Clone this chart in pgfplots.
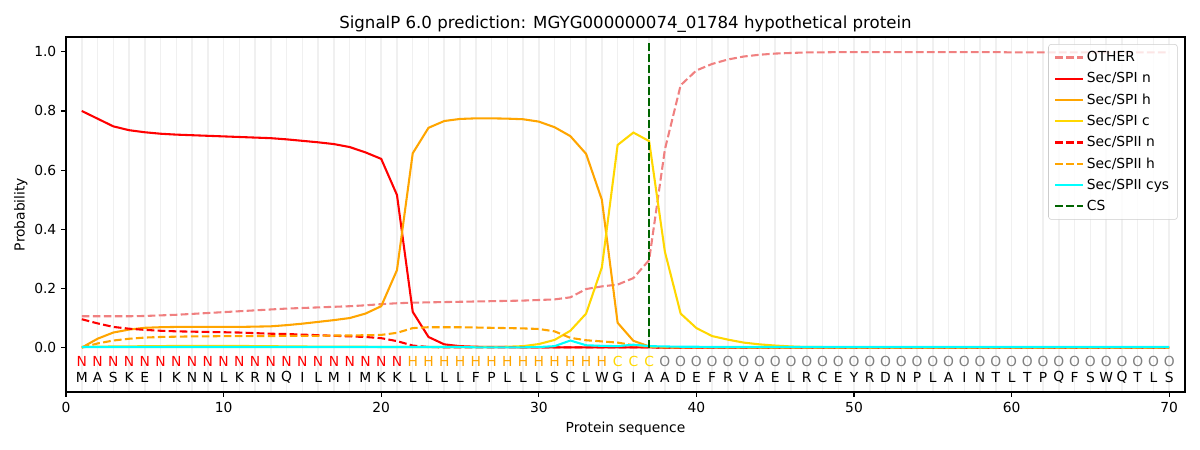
\documentclass[border=0pt]{standalone}
\usepackage{fontspec}
\setmainfont{DejaVu Sans}
\usepackage{pgfplots}
\pgfplotsset{compat=1.18}
\usepackage{pgfplotstable}
\definecolor{lcoral}{HTML}{F08080}
\definecolor{orng}{HTML}{FFA500}
\definecolor{gold}{HTML}{FFD700}
\definecolor{cyn}{HTML}{00FFFF}
\definecolor{dgreen}{HTML}{006400}
\definecolor{gridc}{HTML}{F0F0F0}

\pgfplotstableread{
x other spin spih spic spiin spiih cys
1 0.106 0.800 0.000 0.002 0.096 0.000 0.002
2 0.106 0.774 0.030 0.003 0.082 0.014 0.002
3 0.106 0.748 0.051 0.004 0.070 0.024 0.002
4 0.106 0.735 0.061 0.004 0.064 0.030 0.002
5 0.107 0.728 0.067 0.005 0.060 0.034 0.002
6 0.109 0.723 0.069 0.005 0.057 0.036 0.002
7 0.111 0.720 0.070 0.006 0.055 0.037 0.002
8 0.114 0.718 0.070 0.006 0.054 0.038 0.002
9 0.117 0.716 0.070 0.006 0.053 0.038 0.002
10 0.120 0.714 0.070 0.006 0.052 0.039 0.002
11 0.123 0.712 0.070 0.006 0.051 0.039 0.002
12 0.126 0.710 0.071 0.005 0.049 0.039 0.002
13 0.129 0.708 0.072 0.005 0.047 0.039 0.002
14 0.132 0.704 0.076 0.004 0.046 0.040 0.002
15 0.134 0.699 0.081 0.004 0.044 0.040 0.002
16 0.136 0.694 0.087 0.003 0.042 0.040 0.002
17 0.138 0.688 0.093 0.003 0.040 0.041 0.002
18 0.140 0.678 0.100 0.003 0.038 0.041 0.002
19 0.143 0.660 0.115 0.003 0.036 0.042 0.002
20 0.147 0.638 0.140 0.002 0.032 0.043 0.002
21 0.150 0.516 0.262 0.002 0.022 0.050 0.002
22 0.152 0.121 0.657 0.002 0.007 0.066 0.002
23 0.153 0.036 0.743 0.002 0.002 0.069 0.002
24 0.154 0.011 0.766 0.002 0.001 0.069 0.002
25 0.155 0.005 0.773 0.002 0.001 0.069 0.002
26 0.156 0.003 0.775 0.002 0.001 0.068 0.001
27 0.157 0.002 0.775 0.002 0.001 0.067 0.001
28 0.158 0.002 0.774 0.003 0.001 0.066 0.001
29 0.159 0.001 0.772 0.005 0.001 0.065 0.001
30 0.161 0.001 0.764 0.012 0.001 0.063 0.002
31 0.163 0.001 0.745 0.026 0.001 0.055 0.005
32 0.170 0.001 0.715 0.057 0.001 0.033 0.024
33 0.198 0.001 0.655 0.115 0.001 0.025 0.008
34 0.207 0.001 0.500 0.271 0.001 0.021 0.006
35 0.213 0.001 0.084 0.685 0.001 0.017 0.005
36 0.235 0.001 0.023 0.727 0.001 0.008 0.010
37 0.296 0.001 0.004 0.698 0.001 0.003 0.005
38 0.670 0.000 0.001 0.324 0.000 0.001 0.004
39 0.887 0.000 0.001 0.115 0.000 0.001 0.003
40 0.937 0.000 0.001 0.066 0.000 0.001 0.003
41 0.959 0.000 0.001 0.039 0.000 0.001 0.002
42 0.974 0.000 0.000 0.027 0.000 0.001 0.002
43 0.984 0.000 0.000 0.017 0.000 0.001 0.002
44 0.990 0.000 0.000 0.011 0.000 0.000 0.002
45 0.994 0.000 0.000 0.007 0.000 0.000 0.002
46 0.996 0.000 0.000 0.004 0.000 0.000 0.002
47 0.998 0.000 0.000 0.002 0.000 0.000 0.002
48 0.998 0.000 0.000 0.002 0.000 0.000 0.002
49 0.999 0.000 0.000 0.001 0.000 0.000 0.002
50 0.999 0.000 0.000 0.001 0.000 0.000 0.002
51 0.999 0.000 0.000 0.001 0.000 0.000 0.002
52 0.999 0.000 0.000 0.001 0.000 0.000 0.002
53 0.999 0.000 0.000 0.001 0.000 0.000 0.002
54 0.999 0.000 0.000 0.001 0.000 0.000 0.002
55 0.999 0.000 0.000 0.001 0.000 0.000 0.002
56 0.999 0.000 0.000 0.001 0.000 0.000 0.002
57 0.999 0.000 0.000 0.001 0.000 0.000 0.002
58 0.999 0.000 0.000 0.001 0.000 0.000 0.002
59 0.999 0.000 0.000 0.001 0.000 0.000 0.002
60 0.998 0.000 0.000 0.001 0.000 0.000 0.002
61 0.998 0.000 0.000 0.001 0.000 0.000 0.002
62 0.998 0.000 0.000 0.001 0.000 0.000 0.002
63 0.998 0.000 0.000 0.001 0.000 0.000 0.002
64 0.998 0.000 0.000 0.001 0.000 0.000 0.002
65 0.998 0.000 0.000 0.001 0.000 0.000 0.002
66 0.998 0.000 0.000 0.001 0.000 0.000 0.002
67 0.998 0.000 0.000 0.001 0.000 0.000 0.002
68 0.998 0.000 0.000 0.001 0.000 0.000 0.002
69 0.998 0.000 0.000 0.001 0.000 0.000 0.002
70 0.998 0.000 0.000 0.001 0.000 0.000 0.002
}\probs

\pgfplotstableread{
x y l
1 -0.046 N
2 -0.046 N
3 -0.046 N
4 -0.046 N
5 -0.046 N
6 -0.046 N
7 -0.046 N
8 -0.046 N
9 -0.046 N
10 -0.046 N
11 -0.046 N
12 -0.046 N
13 -0.046 N
14 -0.046 N
15 -0.046 N
16 -0.046 N
17 -0.046 N
18 -0.046 N
19 -0.046 N
20 -0.046 N
21 -0.046 N
}\labN
\pgfplotstableread{
x y l
22 -0.046 H
23 -0.046 H
24 -0.046 H
25 -0.046 H
26 -0.046 H
27 -0.046 H
28 -0.046 H
29 -0.046 H
30 -0.046 H
31 -0.046 H
32 -0.046 H
33 -0.046 H
34 -0.046 H
}\labH
\pgfplotstableread{
x y l
35 -0.046 C
36 -0.046 C
37 -0.046 C
}\labC
\pgfplotstableread{
x y l
38 -0.046 O
39 -0.046 O
40 -0.046 O
41 -0.046 O
42 -0.046 O
43 -0.046 O
44 -0.046 O
45 -0.046 O
46 -0.046 O
47 -0.046 O
48 -0.046 O
49 -0.046 O
50 -0.046 O
51 -0.046 O
52 -0.046 O
53 -0.046 O
54 -0.046 O
55 -0.046 O
56 -0.046 O
57 -0.046 O
58 -0.046 O
59 -0.046 O
60 -0.046 O
61 -0.046 O
62 -0.046 O
63 -0.046 O
64 -0.046 O
65 -0.046 O
66 -0.046 O
67 -0.046 O
68 -0.046 O
69 -0.046 O
70 -0.046 O
}\labO
\pgfplotstableread{
x y l
1 -0.100 M
2 -0.100 A
3 -0.100 S
4 -0.100 K
5 -0.100 E
6 -0.100 I
7 -0.100 K
8 -0.100 N
9 -0.100 N
10 -0.100 L
11 -0.100 K
12 -0.100 R
13 -0.100 N
14 -0.100 Q
15 -0.100 I
16 -0.100 L
17 -0.100 M
18 -0.100 I
19 -0.100 M
20 -0.100 K
21 -0.100 K
22 -0.100 L
23 -0.100 L
24 -0.100 L
25 -0.100 L
26 -0.100 F
27 -0.100 P
28 -0.100 L
29 -0.100 L
30 -0.100 L
31 -0.100 S
32 -0.100 C
33 -0.100 L
34 -0.100 W
35 -0.100 G
36 -0.100 I
37 -0.100 A
38 -0.100 A
39 -0.100 D
40 -0.100 E
41 -0.100 F
42 -0.100 R
43 -0.100 V
44 -0.100 A
45 -0.100 E
46 -0.100 L
47 -0.100 R
48 -0.100 C
49 -0.100 E
50 -0.100 Y
51 -0.100 R
52 -0.100 D
53 -0.100 N
54 -0.100 P
55 -0.100 L
56 -0.100 A
57 -0.100 I
58 -0.100 N
59 -0.100 T
60 -0.100 L
61 -0.100 T
62 -0.100 P
63 -0.100 Q
64 -0.100 F
65 -0.100 S
66 -0.100 W
67 -0.100 Q
68 -0.100 T
69 -0.100 L
70 -0.100 S
}\labAA

\begin{document}
\begin{tikzpicture}
\begin{axis}[
  at={(0,0)}, anchor=south west,
  scale only axis,
  width=11.19in, height=3.55in,
  xmin=0, xmax=71, ymin=-0.15, ymax=1.05,
  xtick={0,10,20,30,40,50,60,70},
  ytick={0,0.2,0.4,0.6,0.8,1.0},
  yticklabel style={/pgf/number format/.cd, fixed, fixed zerofill, precision=1},
  /pgf/number format/assume math mode=true,
  tick label style={font=\fontsize{10}{12}\selectfont},
  tick align=outside,
  major tick length=3.5pt,
  tick style={black, line width=0.8pt},
  xtick pos=bottom, ytick pos=left,
  minor xtick={1,2,...,70},
  minor tick length=0pt,
  xminorgrids,
  minor grid style={gridc, line width=1.1pt},
  axis line style={black, line width=0.8pt},
  title={SignalP 6.0 prediction: MGYG000000074\_01784 hypothetical protein},
  title style={font=\fontsize{12}{14}\selectfont, yshift=-6pt},
  xlabel={Protein sequence},
  ylabel={Probability},
  label style={font=\fontsize{10}{12}\selectfont},
  xlabel style={yshift=0pt},
  ylabel style={yshift=-2pt},
  legend cell align=left,
  legend style={at={(0.9935,0.98)}, anchor=north east,
    draw=black!20, fill=white, fill opacity=0.8, text opacity=1,
    rounded corners=2pt, font=\fontsize{10}{12}\selectfont,
    inner xsep=4pt, inner ysep=3pt, row sep=2.4pt},
  legend image code/.code={\draw[#1] (0in,0in) -- (0.28in,0in);},
  clip=false,
]
\addplot[lcoral, line width=1.5pt, dash pattern=on 5.55pt off 2.4pt] table[x=x,y=other] {\probs};
\addlegendentry{OTHER}
\addplot[red, line width=1.5pt] table[x=x,y=spin] {\probs};
\addlegendentry{Sec/SPI n}
\addplot[orng, line width=1.5pt] table[x=x,y=spih] {\probs};
\addlegendentry{Sec/SPI h}
\addplot[gold, line width=1.5pt] table[x=x,y=spic] {\probs};
\addlegendentry{Sec/SPI c}
\addplot[red, line width=1.5pt, dash pattern=on 5.55pt off 2.4pt] table[x=x,y=spiin] {\probs};
\addlegendentry{Sec/SPII n}
\addplot[orng, line width=1.5pt, dash pattern=on 5.55pt off 2.4pt] table[x=x,y=spiih] {\probs};
\addlegendentry{Sec/SPII h}
\addplot[cyn, line width=1.5pt] table[x=x,y=cys] {\probs};
\addlegendentry{Sec/SPII cys}
\addplot[dgreen, line width=1.5pt, dash pattern=on 5.55pt off 2.4pt] coordinates {(37,0) (37,1.038)};
\addlegendentry{CS}

\addplot[only marks, mark=none, nodes near coords, point meta=explicit symbolic,
  nodes near coords style={anchor=center, text=red, font=\fontsize{10}{12}\selectfont}, forget plot]
  table[x=x,y=y,meta=l] {\labN};
\addplot[only marks, mark=none, nodes near coords, point meta=explicit symbolic,
  nodes near coords style={anchor=center, text=orng, font=\fontsize{10}{12}\selectfont}, forget plot]
  table[x=x,y=y,meta=l] {\labH};
\addplot[only marks, mark=none, nodes near coords, point meta=explicit symbolic,
  nodes near coords style={anchor=center, text=gold, font=\fontsize{10}{12}\selectfont}, forget plot]
  table[x=x,y=y,meta=l] {\labC};
\addplot[only marks, mark=none, nodes near coords, point meta=explicit symbolic,
  nodes near coords style={anchor=center, text=gray, font=\fontsize{10}{12}\selectfont}, forget plot]
  table[x=x,y=y,meta=l] {\labO};
\addplot[only marks, mark=none, nodes near coords, point meta=explicit symbolic,
  nodes near coords style={anchor=center, text=black, font=\fontsize{10}{12}\selectfont}, forget plot]
  table[x=x,y=y,meta=l] {\labAA};
\end{axis}
\pgfresetboundingbox
\useasboundingbox (-0.66in,-0.58in) rectangle (11.34in,3.92in);
\end{tikzpicture}
\end{document}
